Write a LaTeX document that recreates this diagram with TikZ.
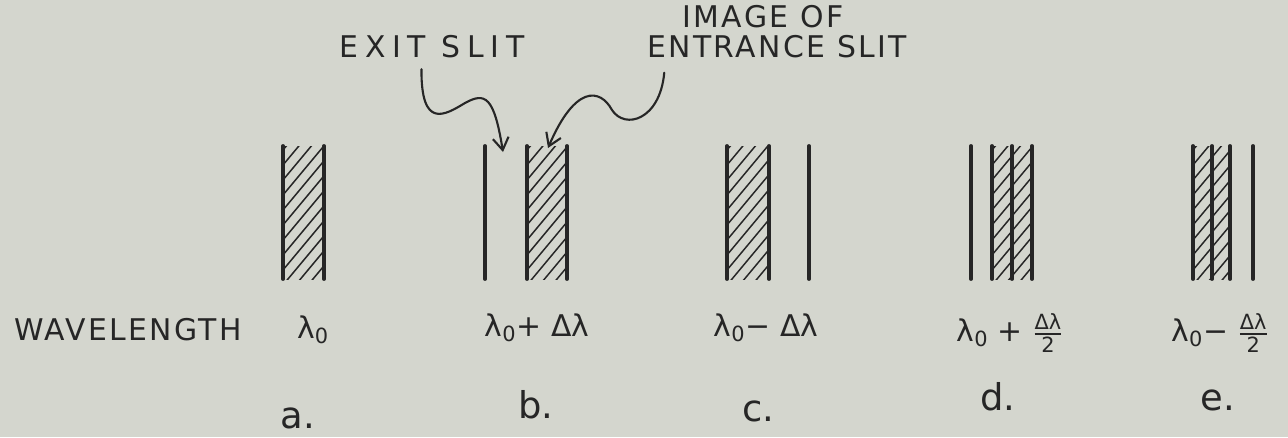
\documentclass[tikz,border=0pt]{standalone}
\usepackage{amsmath}
\usepackage{fontspec}
\setmainfont{DejaVu Sans}
\newfontfamily\handcaps[LetterSpace=8]{DejaVu Sans}
\newfontfamily\handwide[LetterSpace=22]{DejaVu Sans}
\usepackage{tikz}
\usetikzlibrary{arrows.meta}
\definecolor{paper}{HTML}{D4D6CE}
\definecolor{ink}{HTML}{262626}

% slit with hatched image: left x, right x
\newcommand{\hatchslit}[2]{%
  \begin{scope}
    \clip (#1,146) rectangle (#2,279);
    \foreach \yy in {120,135,...,330}
      \draw[hatchline] (#1,\yy) -- ++(60,-72);
  \end{scope}
}

\begin{document}
\begin{tikzpicture}[x=0.02cm,y=-0.02cm,
  slitedge/.style={ink,line width=2.2pt,line cap=round},
  hatchline/.style={ink,line width=0.85pt},
  caplabel/.style={ink,inner sep=0pt,font=\handcaps\fontsize{17}{20}\selectfont},
  wavelabel/.style={ink,inner sep=0pt,font=\fontsize{17}{20}\selectfont},
  caselabel/.style={ink,inner sep=0pt,font=\fontsize{21}{24}\selectfont},
  pointer/.style={ink,line width=1.2pt,line cap=round,-{Straight Barb[length=7pt,width=9pt]}}]
\fill[paper] (0,0) rectangle (1288,437);
% hatched images of the entrance slit
\hatchslit{283}{324}
\hatchslit{527}{567}
\hatchslit{727}{769}
\hatchslit{992}{1032}
\hatchslit{1193}{1230}
% edges of slits
\foreach \xx in {283,324,485,527,567,727,769,809,971,992,1012,1032,1193,1212,1230,1253}{
  \draw[slitedge] (\xx,146) -- (\xx,279);
}
% labels on top
\node[caplabel,font=\handwide\fontsize{17}{20}\selectfont] (exitlbl) at (432,47) {EXIT SLIT};
\node[caplabel] (imglbl) at (763,17) {IMAGE OF};
\node[caplabel] (entlbl) at (777,47) {ENTRANCE SLIT};
\coordinate (exittip) at (503,152);
\coordinate (imgtip) at (548,148);
\draw[pointer] ([xshift=-6pt,yshift=-6pt]exitlbl.south) .. controls (421,130) and (445,115) .. (465,103)
  .. controls (485,92) and (494,96) .. (exittip);
\draw[pointer] ([xshift=10pt,yshift=-8pt]entlbl.south west) .. controls (660,120) and (625,130) .. (612,110)
  .. controls (600,88) and (575,85) .. (imgtip);
% wavelengths
\node[caplabel] (wavelbl) at (128,330) {WAVELENGTH};
\node[wavelabel] (lama) at (313,330) {λ\textsubscript{0}};
\node[wavelabel] (lamb) at (537,328) {λ\textsubscript{0}+ Δλ};
\node[wavelabel] (lamc) at (766,328) {λ\textsubscript{0}− Δλ};
\node[wavelabel] (lamd) at (1010,333) {λ\textsubscript{0} + $\frac{\text{Δλ}}{\text{2}}$};
\node[wavelabel] (lame) at (1220,333) {λ\textsubscript{0}− $\frac{\text{Δλ}}{\text{2}}$};
% cases
\node[caselabel] (casea) at (298,418) {a.};
\node[caselabel] (caseb) at (536,405) {b.};
\node[caselabel] (casec) at (758,411) {c.};
\node[caselabel] (cased) at (998,397) {d.};
\node[caselabel] (casee) at (1218,400) {e.};
\end{tikzpicture}
\end{document}
